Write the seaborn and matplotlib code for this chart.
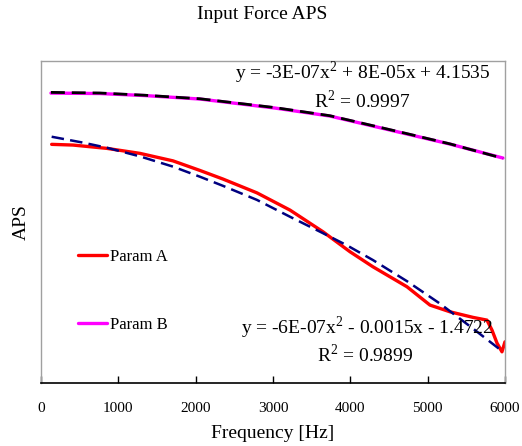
import matplotlib
matplotlib.use("Agg")
import matplotlib.pyplot as plt
from matplotlib.lines import Line2D
import seaborn as sns
import pandas as pd

# ---- data (y in arbitrary APS units) ----
freq_b = [129, 763, 1345, 2056, 3026, 3737, 4681, 5289, 5974]
aps_b = [3.99, 3.92, 3.60, 3.06, 1.65, 0.40, -2.26, -3.98, -6.16]

trend_b_freq = [129, 763, 1345, 2056, 3026, 3737, 4681, 5289, 5974]
trend_b_aps = [4.10, 4.00, 3.65, 3.10, 1.72, 0.45, -2.20, -3.95, -6.20]

freq_a = [138, 414, 853, 1280, 1707, 2056, 2353, 2793, 3220, 3647, 3996, 4293, 4733,
          5030, 5289, 5586, 5767, 5832, 5897, 5961, 6000]
aps_a = [-4.02, -4.13, -4.65, -5.43, -6.60, -8.10, -9.44, -11.60, -14.29, -17.68,
         -20.80, -23.15, -26.27, -29.13, -30.18, -31.05, -31.48, -33.04, -35.07,
         -36.43, -34.87]

trend_a_freq = [138, 543, 853, 1280, 1707, 2056, 2353, 2793, 3220, 3647, 3957, 4293,
                4733, 5159, 5586, 5974]
trend_a_aps = [-2.83, -3.75, -4.55, -5.90, -7.50, -9.08, -10.50, -12.70, -15.33,
               -17.90, -19.80, -22.10, -25.40, -28.90, -32.80, -36.43]

x_ticks = [0, 1000, 2000, 3000, 4000, 5000, 6000]
series_names = ["Param A", "Param B"]
eq_b = ["y = -3E-07x$^{2}$ + 8E-05x + 4.1535", "R$^{2}$ = 0.9997"]
eq_a = ["y = -6E-07x$^{2}$ - 0.0015x - 1.4722", "R$^{2}$ = 0.9899"]

sns.set_style("white")
plt.rcParams["font.family"] = ["Liberation Serif", "DejaVu Serif"]
plt.rcParams["mathtext.fontset"] = "custom"
plt.rcParams["mathtext.rm"] = "Liberation Serif"
plt.rcParams["text.color"] = "black"
plt.rcParams["axes.labelcolor"] = "black"
plt.rcParams["xtick.color"] = "black"

fig = plt.figure(figsize=(5.22, 4.46), dpi=100)
ax = fig.add_axes([0.0785, 0.1413, 0.8889, 0.7219])

df_a = pd.DataFrame({"f": freq_a, "v": aps_a})
df_b = pd.DataFrame({"f": freq_b, "v": aps_b})
df_ta = pd.DataFrame({"f": trend_a_freq, "v": trend_a_aps})
df_tb = pd.DataFrame({"f": trend_b_freq, "v": trend_b_aps})

sns.lineplot(data=df_b, x="f", y="v", ax=ax, color="#ff00ff", lw=2.4, sort=False)
sns.lineplot(data=df_tb, x="f", y="v", ax=ax, color="black", lw=2.0, sort=False,
             linestyle=(0, (5, 2.5)))
sns.lineplot(data=df_a, x="f", y="v", ax=ax, color="#ff0000", lw=2.4, sort=False)
sns.lineplot(data=df_ta, x="f", y="v", ax=ax, color="#000080", lw=1.8, sort=False,
             linestyle=(0, (5, 2.5)))

ax.set_xlim(0, 6000)
ax.set_ylim(-41.3, 9.0)
ax.set_xticks(x_ticks)
ax.set_xticklabels([str(t) for t in x_ticks])
ax.set_yticks([])
ax.tick_params(axis="x", direction="in", length=5, width=1, colors="black",
               pad=14, labelsize=11, bottom=True)

for s in ["left", "top", "right"]:
    ax.spines[s].set_color("#a0a0a0")
    ax.spines[s].set_linewidth(1.0)
ax.spines["bottom"].set_color("black")
ax.spines["bottom"].set_linewidth(1.2)

ax.set_xlabel("Frequency [Hz]", fontsize=14, labelpad=7)
ax.set_ylabel("APS", fontsize=14, labelpad=8)
fig.text(0.502, 0.968, "Input Force APS", ha="center", va="center", fontsize=14)

ax.text(0.968, 0.965, eq_b[0], transform=ax.transAxes, ha="right", va="center", fontsize=14)
ax.text(0.692, 0.875, eq_b[1], transform=ax.transAxes, ha="center", va="center", fontsize=14)
ax.text(0.975, 0.173, eq_a[0], transform=ax.transAxes, ha="right", va="center", fontsize=14)
ax.text(0.699, 0.087, eq_a[1], transform=ax.transAxes, ha="center", va="center", fontsize=14)

handles = [Line2D([], [], color="#ff0000", lw=2.4), Line2D([], [], color="#ff00ff", lw=2.4)]
ax.legend(handles, series_names, loc="upper left", bbox_to_anchor=(0.066, 0.436),
          frameon=False, fontsize=12, labelspacing=3.1, handlelength=1.7,
          handletextpad=0.2, borderaxespad=0)

fig.savefig("out.png", dpi=100)
